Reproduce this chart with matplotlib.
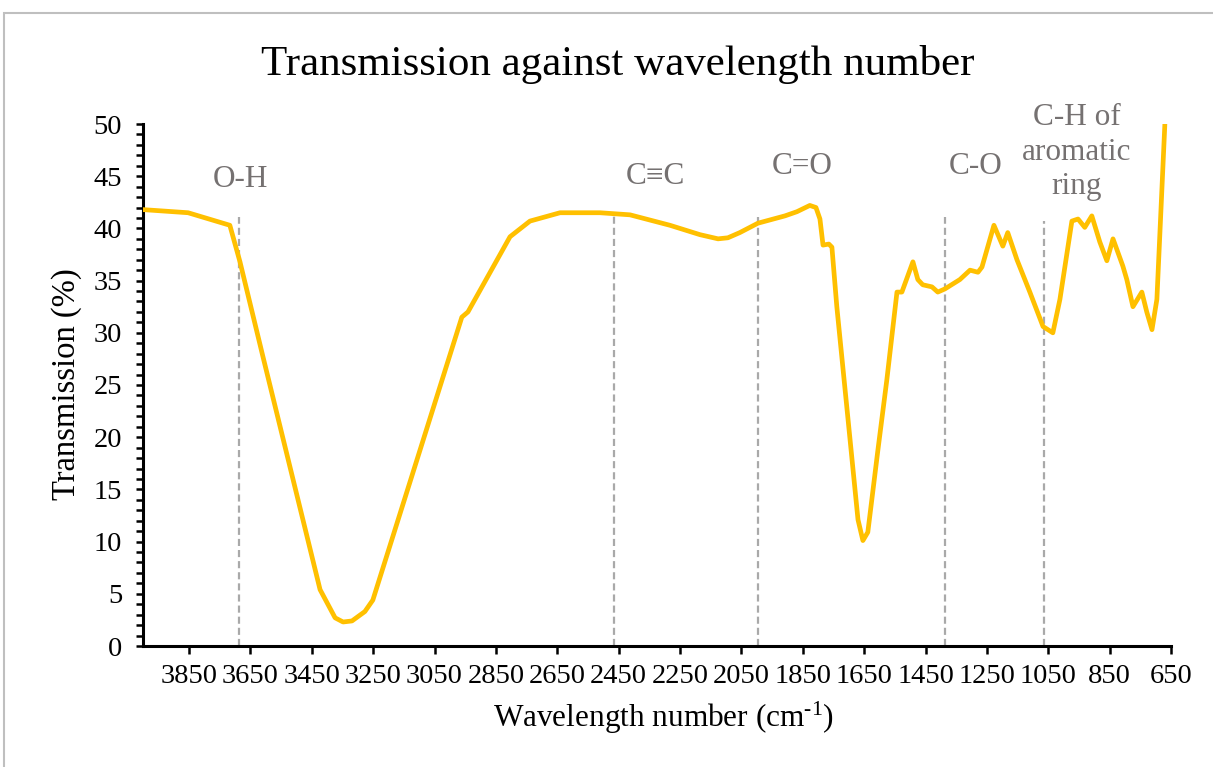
import matplotlib
matplotlib.use("Agg")
import matplotlib.pyplot as plt
from matplotlib.patches import Rectangle
from matplotlib.ticker import MultipleLocator, FixedLocator

plt.rcParams['font.family'] = ['Liberation Serif', 'DejaVu Serif']
plt.rcParams['mathtext.fontset'] = 'custom'
plt.rcParams['mathtext.rm'] = 'Liberation Serif'
plt.rcParams['mathtext.it'] = 'Liberation Serif:italic'

# ---- data ----
wavenumber = [4000, 3853, 3717, 3684, 3609, 3423, 3374, 3348, 3319, 3277, 3251,
              2961, 2941, 2804, 2739, 2641, 2511, 2413, 2283, 2185, 2126, 2094,
              2055, 1996, 1908, 1869, 1827, 1807, 1794, 1784, 1765, 1755, 1739,
              1696, 1670, 1654, 1638, 1605, 1576, 1543, 1527, 1491, 1475, 1459,
              1429, 1410, 1387, 1338, 1305, 1279, 1266, 1227, 1198, 1182, 1152,
              1110, 1067, 1035, 1012, 973, 953, 931, 908, 882, 859, 839, 807,
              794, 774, 745, 729, 712, 696, 670]
transmission = [41.8, 41.5, 40.3, 36.8, 27.7, 5.4, 2.7, 2.3, 2.4, 3.3, 4.4,
                31.5, 32.0, 39.2, 40.7, 41.5, 41.5, 41.3, 40.3, 39.4, 39.0, 39.1,
                39.6, 40.5, 41.2, 41.6, 42.2, 42.0, 40.9, 38.4, 38.5, 38.2, 32.5,
                19.8, 12.1, 10.1, 10.9, 18.8, 25.5, 33.9, 33.9, 36.8, 35.1, 34.6,
                34.4, 33.9, 34.2, 35.1, 36.0, 35.8, 36.3, 40.3, 38.3, 39.6, 37.0,
                33.9, 30.6, 30.0, 33.2, 40.7, 40.9, 40.1, 41.2, 38.7, 36.9, 39.0, 36.4,
                35.1, 32.5, 33.9, 32.0, 30.3, 33.2, 50.0]

bond_labels = ["O-H", "C\u2261C", "C=O", "C-O", "C-H of\naromatic\nring"]
bond_positions = [3687, 2465, 1996, 1387, 1064]
bond_line_tops = [41.1, 41.6, 41.1, 41.1, 40.7]
label_x = [3684, 2330, 1853, 1286, 957]
label_y = [44.7, 45.0, 45.9, 45.9, 47.3]

x_ticks = [3850, 3650, 3450, 3250, 3050, 2850, 2650, 2450, 2250, 2050,
           1850, 1650, 1450, 1250, 1050, 850, 650]

title = "Transmission against wavelength number"
xlabel = "Wavelength number (cm$^{\\mathregular{\u20101}}$)"
ylabel = "Transmission (%)"

# ---- figure ----
W, H = 1213, 767
fig = plt.figure(figsize=(W / 100, H / 100), dpi=100)
fig.patches.append(Rectangle((4 / W, -0.01), 1.2, 1 - 13 / H + 0.01,
                             transform=fig.transFigure, fill=False,
                             edgecolor="#BFBFBF", linewidth=1.5))

ax = fig.add_axes([143 / W, 1 - 646 / H, (1171 - 143) / W, (646 - 124) / H])

ax.plot(wavenumber, transmission, color="#FFC000", linewidth=3.4,
        solid_joinstyle="round", solid_capstyle="round", zorder=3)

for xv, top in zip(bond_positions, bond_line_tops):
    ax.plot([xv, xv], [0, top], color="#A9A9A9", linewidth=1.6,
            linestyle=(0, (3.2, 1.8)), zorder=2)

for txt, xv, yv in zip(bond_labels, label_x, label_y):
    ax.text(xv, yv, txt, ha="center", va="center", fontsize=22.5,
            color="#757171", linespacing=1.26, zorder=4)

ax.set_xlim(4000, 650)
ax.set_ylim(0, 50)
ax.xaxis.set_major_locator(FixedLocator(x_ticks))
ax.yaxis.set_major_locator(MultipleLocator(5))
ax.yaxis.set_minor_locator(MultipleLocator(1))

for s in ["top", "right"]:
    ax.spines[s].set_visible(False)
for s in ["left", "bottom"]:
    ax.spines[s].set_linewidth(2.2)
    ax.spines[s].set_color("black")

ax.tick_params(axis="x", which="major", direction="out", length=6, width=1.8,
               labelsize=20.5, pad=7)
ax.tick_params(axis="y", which="both", direction="out", length=5, width=1.8,
               labelsize=20.5, pad=10)

ax.set_xlabel(xlabel, fontsize=22.5, labelpad=8)
ax.set_ylabel(ylabel, fontsize=23.5, labelpad=10)
ax.xaxis.set_label_coords((663 - 143) / (1171 - 143), -(718 - 646) / (646 - 124))
ax.yaxis.set_label_coords(-(143 - 67) / (1171 - 143), (646 - 384) / (646 - 124))
ax.xaxis.label.set_va("center")
ax.yaxis.label.set_va("center")

fig.text(618 / W, 1 - 65 / H, title, ha="center", va="center", fontsize=31)

fig.savefig("out.png", dpi=100)
